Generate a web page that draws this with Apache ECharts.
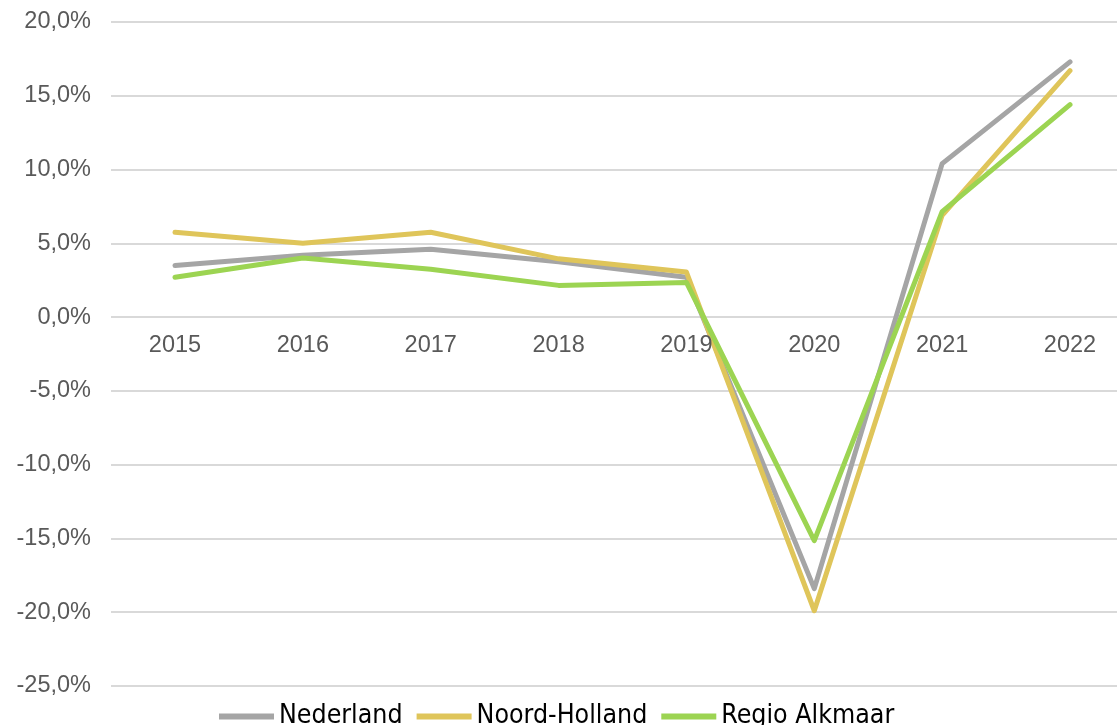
<!DOCTYPE html>
<html>
<head>
<meta charset="utf-8">
<script src="https://cdn.jsdelivr.net/npm/echarts@6/dist/echarts.min.js"></script>
<style>html,body{margin:0;padding:0;background:#fff;}#c{width:1117px;height:725px;}</style>
</head>
<body>
<div id="c"></div>
<script>
const categories = ['2015','2016','2017','2018','2019','2020','2021','2022'];
const nederland = [3.5, 4.2, 4.6, 3.75, 2.7, -18.4, 10.4, 17.3];
const noordHolland = [5.75, 5.0, 5.75, 3.95, 3.05, -19.9, 6.9, 16.7];
const regioAlkmaar = [2.7, 4.0, 3.25, 2.15, 2.35, -15.15, 7.15, 14.4];
const seriesNames = ['Nederland', 'Noord-Holland', 'Regio Alkmaar'];
const colors = ['#a5a5a5', '#dfc55a', '#9cd452'];
const yTicks = {min: -25, max: 20, interval: 5};

const chart = echarts.init(document.getElementById('c'), null, {renderer: 'canvas'});
const mk = (name, data, color) => ({
  name, type: 'line', data, symbol: 'none', smooth: false,
  xAxisIndex: 0, yAxisIndex: 0,
  lineStyle: {color, width: 5, cap: 'round', join: 'round'},
  itemStyle: {color}
});
const labelFont = 'Liberation Sans, Arial, sans-serif';
// zero line position offset: plot height 664 over 45 units; 0 sits 25 units above bottom
const zeroOffset = -664 * (0 - yTicks.min) / (yTicks.max - yTicks.min);
chart.setOption({
  animation: false,
  color: colors,
  grid: [
    {left: 175, top: 22, right: 47, height: 664, containLabel: false},
    {left: 111, top: 22, right: 0, height: 664, containLabel: false}
  ],
  xAxis: [{
    gridIndex: 0, type: 'category', data: categories, boundaryGap: false,
    position: 'bottom', offset: zeroOffset,
    axisLine: {show: false, onZero: false},
    axisTick: {show: false},
    axisLabel: {color: '#595959', fontSize: 23.5, fontFamily: labelFont, margin: 16},
    splitLine: {show: false}, z: 5
  }, {
    gridIndex: 1, type: 'value', min: 0, max: 1, show: false
  }],
  yAxis: [{
    gridIndex: 0, type: 'value', min: yTicks.min, max: yTicks.max, interval: yTicks.interval,
    show: false, splitLine: {show: false}
  }, {
    gridIndex: 1, type: 'value', min: yTicks.min, max: yTicks.max, interval: yTicks.interval,
    axisLine: {show: false}, axisTick: {show: false},
    axisLabel: {color: '#595959', fontSize: 23.5, fontFamily: labelFont, margin: 20,
      formatter: v => v.toFixed(1).replace('.', ',') + '%'},
    splitLine: {lineStyle: {color: '#d9d9d9', width: 2}}
  }],
  legend: {
    data: seriesNames, bottom: -10, left: 214,
    icon: 'rect', itemWidth: 55, itemHeight: 6, itemGap: 14,
    textStyle: {color: '#000', fontSize: 26.5, fontFamily: 'Liberation Sans Narrow, DejaVu Sans Condensed, sans-serif'}
  },
  series: [
    mk(seriesNames[0], nederland, colors[0]),
    mk(seriesNames[1], noordHolland, colors[1]),
    mk(seriesNames[2], regioAlkmaar, colors[2])
  ]
});
</script>
</body>
</html>
